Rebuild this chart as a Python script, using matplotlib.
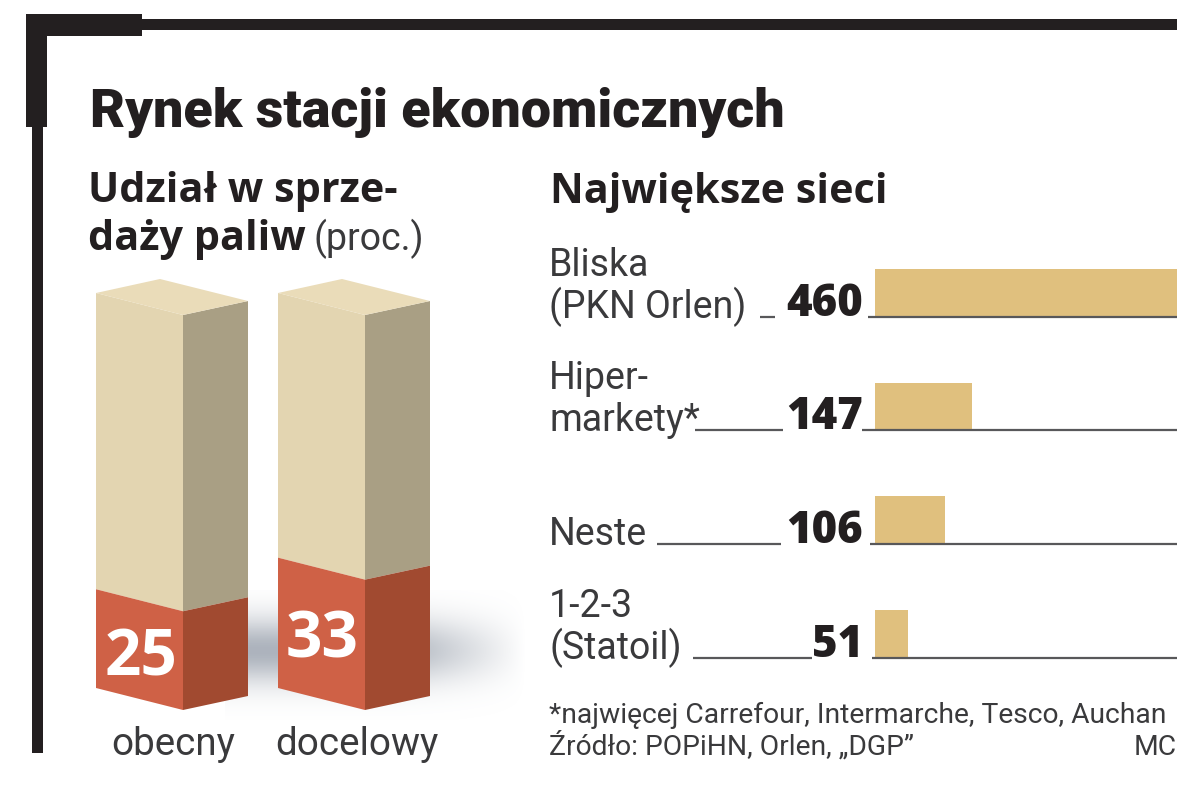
import numpy as np
import matplotlib
matplotlib.use("Agg")
import matplotlib.pyplot as plt
from matplotlib.patches import Polygon, Rectangle

# ---- data ----
title = "Rynek stacji ekonomicznych"
share_labels = ["obecny", "docelowy"]
share_values = [25, 33]
chain_labels = ["Bliska\n(PKN Orlen)", "Hiper-\nmarkety*", "Neste", "1-2-3\n(Statoil)"]
chain_values = [460, 147, 106, 51]
footnote = "*najwięcej Carrefour, Intermarche, Tesco, Auchan"
source = "Źródło: POPiHN, Orlen, „DGP”"
credit = "MC"

W, H = 1200, 789
INK = "#231f20"
TXT = "#3a3a3c"
fig = plt.figure(figsize=(W / 100, H / 100), dpi=100, facecolor="white")

def px_axes(x0, y0, x1, y1, z=1):
    a = fig.add_axes([x0 / W, 1 - y1 / H, (x1 - x0) / W, (y1 - y0) / H], zorder=z)
    a.set_axis_off()
    return a

# background layer: frame and soft shadow
bg = px_axes(0, 0, W, H, z=0)
for x, y, w, h in [(26, 14, 116, 22), (26, 14, 21, 113), (142, 19, 1035, 11), (32, 127, 11, 626)]:
    bg.add_patch(Rectangle((x, y), w, h, fc=INK, ec="none"))
yy, xx = np.mgrid[590:720, 225:540]
sh = np.exp(-((yy - 650) / 32.0) ** 2) * np.clip((525 - xx) / 130.0, 0, 1)
rgba = np.zeros(sh.shape + (4,))
rgba[..., :3] = matplotlib.colors.to_rgb("#98a0ac")
rgba[..., 3] = sh * 0.8
bg.imshow(rgba, extent=(225, 540, 720, 590), aspect="auto", interpolation="bilinear")
bg.set_xlim(0, W); bg.set_ylim(H, 0)

# columns: y axis in percent (0 -> px 688, 100 -> px 293), x axis in pixels
colax = px_axes(0, 0, W, H, z=1)
colax.set_xlim(0, W)
s = 395 / 100.0
colax.set_ylim(-(H - 688) / s, 688 / s)
FRONT_L, FRONT_H, SIDE_L, SIDE_H = "#e3d5b1", "#cf6146", "#a99f84", "#a14a30"
dz = 22 / s    # drop of the near corner
dr = 8 / s     # drop of the right corner
TOP = 100
for x0, val in zip([96, 278], share_values):
    x1, x2 = x0 + 87, x0 + 152
    xb = x0 + 64
    def front(a, b):
        return [(x0, a), (x1, a - dz), (x1, b - dz), (x0, b)]
    def side(a, b):
        return [(x1, a - dz), (x2, a - dr), (x2, b - dr), (x1, b - dz)]
    colax.add_patch(Polygon(front(val, TOP), fc=FRONT_L, ec="none"))
    colax.add_patch(Polygon(side(val, TOP), fc=SIDE_L, ec="none"))
    colax.add_patch(Polygon(front(0, val), fc=FRONT_H, ec="none"))
    colax.add_patch(Polygon(side(0, val), fc=SIDE_H, ec="none"))
    colax.add_patch(Polygon([(x0, TOP), (xb, TOP + 14 / s), (x2, TOP - dr), (x1, TOP - dz)],
                            fc="#eadcb9", ec="none"))

# bars
base_px = [317, 430, 544, 658]
spacing = 113.67
bar_h = 48 / spacing
bx = px_axes(875, 200, 1177, 700, z=1)
ypos = np.arange(len(chain_values))
bx.barh(ypos - bar_h, chain_values, height=bar_h, align="edge", color="#e0c07e", linewidth=0)
bx.set_xlim(0, 460)
bx.set_ylim((700 - base_px[0]) / spacing, -(base_px[0] - 200) / spacing)

# overlay in pixel coordinates for rules and text
pg = px_axes(0, 0, W, H, z=2)
pg.set_xlim(0, W); pg.set_ylim(H, 0)

def t(x, y, s, size, weight="normal", family="Roboto", color=TXT, ha="left", **kw):
    return pg.text(x, y, s, fontsize=size, fontweight=weight, family=family, color=color,
                   ha=ha, va="baseline", **kw)

t(90, 127, title, 38.8, "black", "Roboto", INK)
t(88, 202, "Udział w sprze-", 29.8, "bold", "Open Sans", INK)
t(88, 250, "daży paliw", 29.8, "bold", "Open Sans", INK)
t(313, 250, "(proc.)", 27, "normal", "Roboto", TXT)
t(550, 203, "Największe sieci", 29.8, "bold", "Open Sans", INK)

value_x = [141, 322]
value_y = [675, 657]
label_x = [173.5, 357]
for vx, vy, lx, val, lab in zip(value_x, value_y, label_x, share_values, share_labels):
    t(vx, vy, str(val), 46, "bold", "Open Sans", "white", ha="center")
    t(lx, 755, lab, 27.8, ha="center")

num_right = 863
rule_start = [868, 862, 870, 872]
gap_start = [760, 695, 657, 693]
gap_end = [775, 783, 781, 812]
for i, (lab, val) in enumerate(zip(chain_labels, chain_values)):
    b = base_px[i]
    pg.plot([rule_start[i], 1177], [b, b], color="#58585a", lw=1.6, solid_capstyle="butt")
    pg.plot([gap_start[i], gap_end[i]], [b, b], color="#58585a", lw=1.6, solid_capstyle="butt")
    t(num_right, b - 1, str(val), 31.5, "heavy", "Open Sans", INK, ha="right")
    lines = lab.split("\n")
    for j, ln in enumerate(reversed(lines)):
        t(549, b + 1 - j * 42, ln, 27)

t(549, 723, footnote, 20.3)
t(549, 755, source, 20.3)
t(1177, 755, credit, 20.3, ha="right")

fig.savefig("out.png", dpi=100)
